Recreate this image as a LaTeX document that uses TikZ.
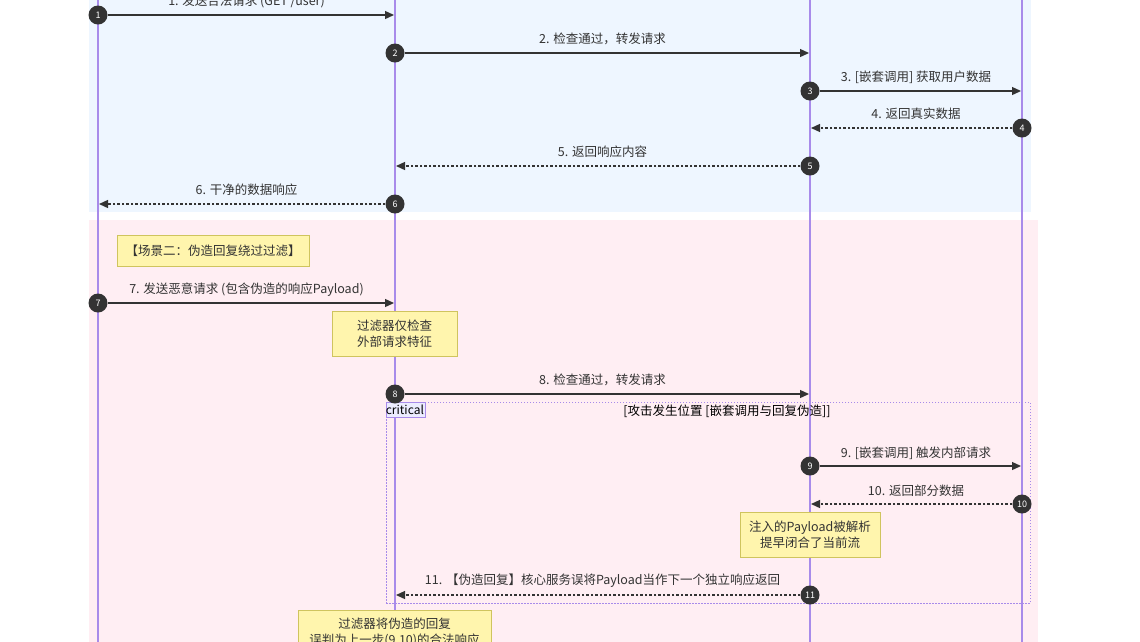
\documentclass[tikz,border=0pt]{standalone}
\usepackage{fontspec}
\setmainfont{Noto Sans CJK SC}
\usetikzlibrary{arrows.meta}
\definecolor{lifeline}{HTML}{A88BEA}
\definecolor{bluebg}{HTML}{EEF6FF}
\definecolor{pinkbg}{HTML}{FFEEF3}
\definecolor{notefill}{HTML}{FFF5AD}
\definecolor{notestroke}{HTML}{CFC45E}
\definecolor{ink}{HTML}{333333}
\definecolor{critfill}{HTML}{ECECFF}
\tikzset{
  lifelinestyle/.style={draw=lifeline, line width=2pt},
  msg/.style={draw=ink, line width=1.3pt, -{Triangle[length=9pt,width=8pt]}},
  reply/.style={msg, dash pattern=on 2.5pt off 2pt},
  num/.style={circle, fill=ink, text=white, minimum size=19pt, inner sep=0pt, font=\fontsize{9}{9}\selectfont},
  lbl/.style={text=ink, font=\fontsize{12.5}{15}\selectfont, inner sep=0pt},
  note/.style={draw=notestroke, fill=notefill, line width=0.9pt, text=ink, align=center, inner sep=0pt, font=\fontsize{12.5}{16}\selectfont},
  critframe/.style={draw=lifeline, line width=1pt, dash pattern=on 1.5pt off 1.5pt, inner sep=0pt},
  critlabel/.style={draw=lifeline, fill=critfill, line width=0.8pt, text=black, inner sep=0pt, font=\fontsize{12}{14}\selectfont, minimum width=39pt, minimum height=15pt, anchor=north west}
}
\begin{document}
\begin{tikzpicture}[x=1pt,y=-1pt]
\useasboundingbox (0,0) rectangle (1140,641);
\clip (0,0) rectangle (1140,641);
% backgrounds
\fill[bluebg] (89,-10) rectangle (1031,212);
\fill[pinkbg] (89,220) rectangle (1038,660);
% lifelines
\coordinate (Atop) at (98,-10);   \coordinate (Abot) at (98,660);
\coordinate (Btop) at (395,-10);  \coordinate (Bbot) at (395,660);
\coordinate (Ctop) at (810,-10);  \coordinate (Cbot) at (810,660);
\coordinate (Dtop) at (1022,-10); \coordinate (Dbot) at (1022,660);
\draw[lifelinestyle] (Atop) -- (Abot);
\draw[lifelinestyle] (Btop) -- (Bbot);
\draw[lifelinestyle] (Ctop) -- (Cbot);
\draw[lifelinestyle] (Dtop) -- (Dbot);

% critical frame
\node[critframe, minimum width=644pt, minimum height=201pt] (crit) at (708,502.5) {};
\node[critlabel] (critlbl) at (crit.north west) {\hspace*{-1pt}critical\hfill};
\node[lbl, text=black] (crittitle) at (727,411) {[攻击发生位置 [嵌套调用与回复伪造]]};

% message endpoints
\coordinate (e1) at (394,15);
\coordinate (e2) at (809,53);
\coordinate (e3) at (1021,91);
\coordinate (e4) at (811,128);
\coordinate (e5) at (396,166);
\coordinate (e6) at (99,204);
\coordinate (e7) at (394,303);
\coordinate (e8) at (809,394);
\coordinate (e9) at (1021,466);
\coordinate (e10) at (811,504);
\coordinate (e11) at (396,595);

% numbered starts
\node[num] (n1) at (98,15) {1};
\node[num] (n2) at (395,53) {2};
\node[num] (n3) at (810,91) {3};
\node[num] (n4) at (1022,128) {4};
\node[num] (n5) at (810,166) {5};
\node[num] (n6) at (395,204) {6};
\node[num] (n7) at (98,303) {7};
\node[num] (n8) at (395,394) {8};
\node[num] (n9) at (810,466) {9};
\node[num] (n10) at (1022,504) {10};
\node[num] (n11) at (810,595) {11};

% messages
\draw[msg] (n1) -- (e1);
\draw[msg] (n2) -- (e2);
\draw[msg] (n3) -- (e3);
\draw[reply] (n4) -- (e4);
\draw[reply] (n5) -- (e5);
\draw[reply] (n6) -- (e6);
\draw[msg] (n7) -- (e7);
\draw[msg] (n8) -- (e8);
\draw[msg] (n9) -- (e9);
\draw[reply] (n10) -- (e10);
\draw[reply] (n11) -- (e11);

% labels
\node[lbl] (l1) at (246.5,1) {1. 发送合法请求 (GET /user)};
\node[lbl] (l2) at (602.5,39) {2. 检查通过，转发请求};
\node[lbl] (l3) at (916,77) {3. [嵌套调用] 获取用户数据};
\node[lbl] (l4) at (916,114) {4. 返回真实数据};
\node[lbl] (l5) at (602.5,152) {5. 返回响应内容};
\node[lbl] (l6) at (246.5,190) {6. 干净的数据响应};
\node[lbl] (l7) at (246.5,290) {7. 发送恶意请求 (包含伪造的响应Payload)};
\node[lbl] (l8) at (602.5,380) {8. 检查通过，转发请求};
\node[lbl] (l9) at (916,453) {9. [嵌套调用] 触发内部请求};
\node[lbl] (l10) at (916,491) {10. 返回部分数据};
\node[lbl] (l11) at (602.5,581) {11. 【伪造回复】核心服务误将Payload当作下一个独立响应返回};

% notes
\node[note, minimum width=192pt, minimum height=31pt] (note1) at (213,250.5) {【场景二：伪造回复绕过过滤】};
\node[note, minimum width=125pt, minimum height=45pt] (note2) at (394.5,333.5) {过滤器仅检查\\外部请求特征};
\node[note, minimum width=140pt, minimum height=45pt] (note3) at (810,534.5) {注入的Payload被解析\\提早闭合了当前流};
\node[note, minimum width=193pt, minimum height=45pt] (note4) at (394.5,632.5) {过滤器将伪造的回复\\误判为上一步(9,10)的合法响应};
\end{tikzpicture}
\end{document}
